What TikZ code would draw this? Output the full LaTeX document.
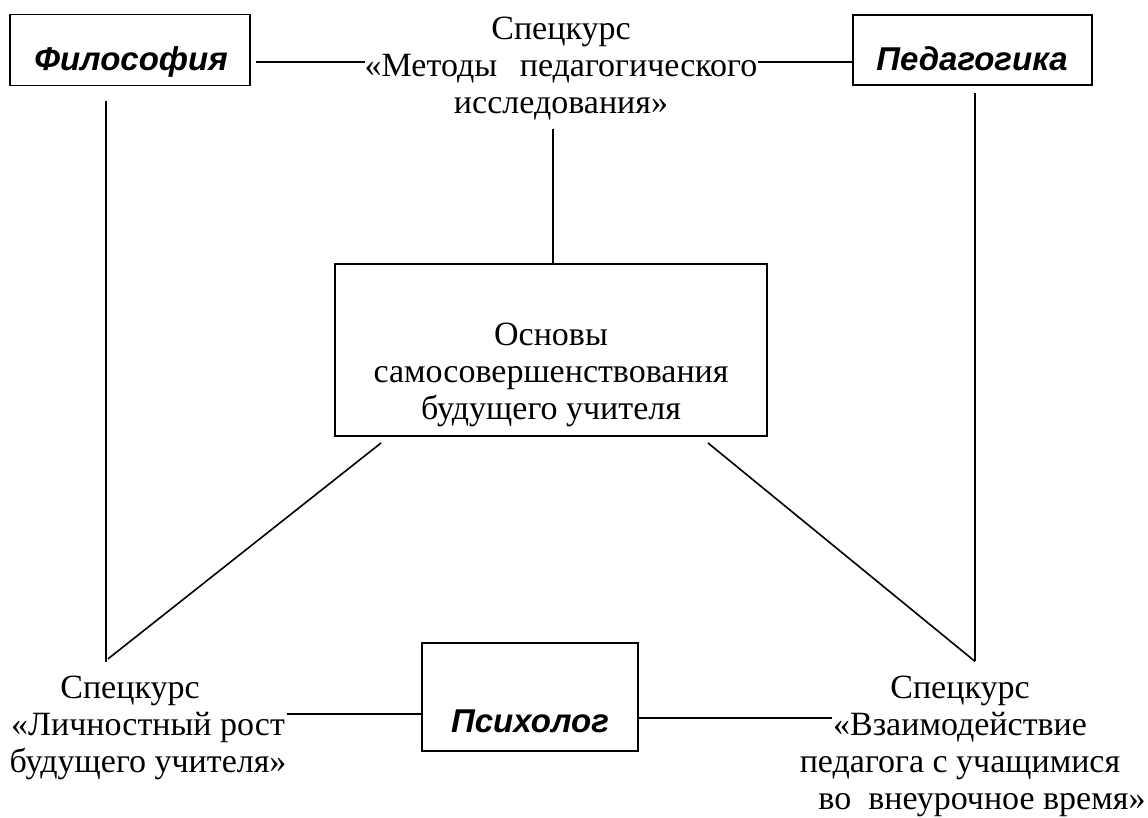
\documentclass[tikz,border=0pt]{standalone}
\usepackage{fontspec}
\setmainfont{Liberation Serif}
\newfontfamily\headfont{Liberation Sans}
\usetikzlibrary{calc}
\begin{document}
\begin{tikzpicture}[x=1pt,y=-1pt,
  boxnode/.style={draw, line width=1.9pt, inner sep=0pt},
  headtext/.style={inner sep=0pt, font=\headfont\bfseries\itshape\fontsize{33}{38}\selectfont},
  lbl/.style={align=center, inner sep=0pt, font=\fontsize{34}{37}\selectfont},
  conn/.style={line width=1.6pt}]
\useasboundingbox (0,0) rectangle (1148,817);
\fill[white] (0,0) rectangle (1148,817);

% boxes
\node[boxnode, minimum width=240pt, minimum height=71pt] (phil) at (130,50) {};
\node[headtext, anchor=base] (philt) at (131,70) {Философия};
\node[boxnode, minimum width=239pt, minimum height=70pt] (peda) at (972.5,50) {};
\node[headtext, anchor=base] (pedat) at (972,70) {Педагогика};
\node[boxnode, minimum width=216pt, minimum height=108pt] (psy) at (530,697) {};
\node[headtext, anchor=base] (psyt) at (530,732) {Психолог};
\node[boxnode, minimum width=432pt, minimum height=172pt] (core) at (551,350) {};
\node[lbl] (coret) at (551,375) {Основы\\самосовершенствования\\будущего учителя};

% labels
\node[lbl] (top) at (561,69) {Спецкурс\\«Методы\ \ \,педагогического\\исследования»};
\node[lbl] (bl) at (148,728) {Спецкурс\hspace*{36pt}\\«Личностный рост\\будущего учителя»};
\node[lbl] (br) at (960,746) {Спецкурс\\«Взаимодействие\\педагога с учащимися\\\hspace*{44pt}во\ \ внеурочное время»};

% connectors
\draw[conn] ($(phil.east)+(5,12)$) -- ($(top.west)+(0,-7)$);
\draw[conn] ($(top.east)+(0,-7)$) -- ($(peda.west)+(0,12)$);
\draw[conn] ($(top.south)+(-8,8)$) -- ($(core.north)+(2,0)$);
\draw[conn] ($(phil.south)+(-24,15)$) -- ($(bl.north)+(-42,-14)$);
\draw[conn] ($(peda.south)+(2.5,7)$) -- ($(br.north)+(15,-14)$);
\draw[conn] ($(core.south west)+(47,6)$) -- ($(bl.north)+(-40,-17)$);
\draw[conn] ($(core.south east)+(-60,6)$) -- ($(br.north)+(15,-14)$);
\draw[conn] ($(bl.east)+(0,-14)$) -- ($(psy.west)+(0,17)$);
\draw[conn] ($(psy.east)+(0,21)$) -- ($(br.center)+(-128,-28)$);
\end{tikzpicture}
\end{document}
